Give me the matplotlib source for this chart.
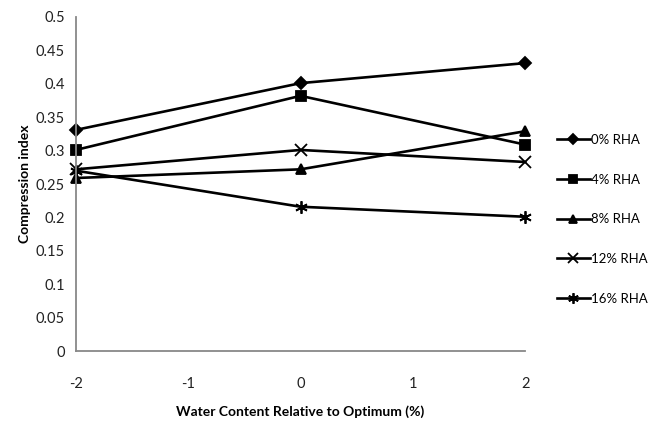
import matplotlib
matplotlib.use("Agg")
import matplotlib.pyplot as plt
from matplotlib.lines import Line2D

plt.rcParams['font.family'] = ['Lato', 'DejaVu Sans']

x = [-2, 0, 2]
series_names = ["0% RHA", "4% RHA", "8% RHA", "12% RHA", "16% RHA"]
rha0 = [0.331, 0.401, 0.431]
rha4 = [0.301, 0.382, 0.309]
rha8 = [0.259, 0.272, 0.329]
rha12 = [0.272, 0.301, 0.283]
rha16 = [0.270, 0.216, 0.201]
values = [rha0, rha4, rha8, rha12, rha16]
markers = ['D', 's', '^', 'x', (6, 2, 0)]
msizes = [6, 7, 7, 8, 9]

yticks = [0, 0.05, 0.1, 0.15, 0.2, 0.25, 0.3, 0.35, 0.4, 0.45, 0.5]
ytick_labels = ["0", "0.05", "0.1", "0.15", "0.2", "0.25", "0.3", "0.35", "0.4", "0.45", "0.5"]
xticks = [-2, -1, 0, 1, 2]
xtick_labels = ["-2", "-1", "0", "1", "2"]

fig = plt.figure(figsize=(6.54, 4.25), dpi=100)
ax = fig.add_axes([0.116, 0.174, 0.687, 0.786])

handles = []
for name, v, m, ms in zip(series_names, values, markers, msizes):
    h, = ax.plot(x, v, color='black', lw=1.9, marker=m, markersize=ms,
                 markeredgewidth=1.3, label=name, clip_on=False)
    handles.append(h)

ax.set_xlim(-2, 2)
ax.set_ylim(0, 0.5)
ax.set_xticks(xticks)
ax.set_xticklabels(xtick_labels)
ax.set_yticks(yticks)
ax.set_yticklabels(ytick_labels)
ax.tick_params(axis='both', length=0, labelsize=10.5, colors='#222222')
ax.tick_params(axis='x', pad=19)
ax.tick_params(axis='y', pad=8)
for s in ['top', 'right']:
    ax.spines[s].set_visible(False)
for s in ['left', 'bottom']:
    ax.spines[s].set_color('#888888')
    ax.spines[s].set_linewidth(1.3)

ax.set_ylabel("Compression index", fontsize=10, fontweight='bold', labelpad=3)
ax.set_xlabel("Water Content Relative to Optimum (%)", fontsize=10, fontweight='bold', labelpad=10)

leg = fig.legend(handles=handles, loc='center left', bbox_to_anchor=(0.843, 0.484),
                 frameon=False, fontsize=9.5, handlelength=2.5, handletextpad=0.1,
                 labelspacing=2.1, borderaxespad=0, markerscale=0.85)

fig.savefig("out.png", dpi=100)
